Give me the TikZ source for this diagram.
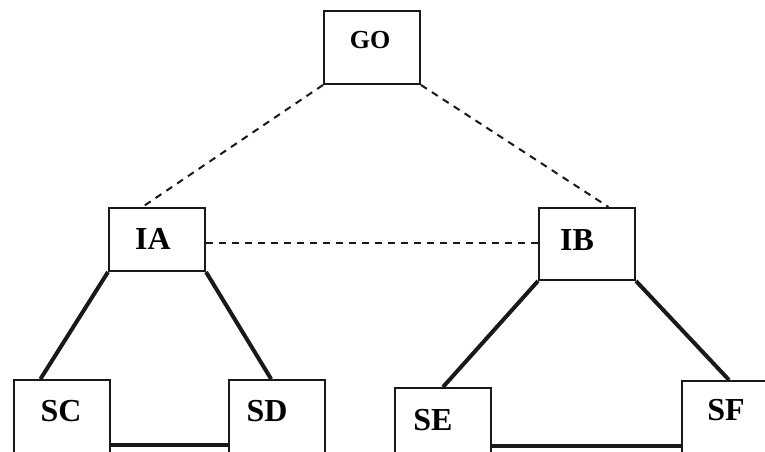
\documentclass[tikz,border=0pt]{standalone}
\usepackage{fontspec}
\setmainfont{Liberation Serif}
\usetikzlibrary{calc}
\begin{document}
\begin{tikzpicture}[x=0.5pt,y=-0.5pt,
  box/.style={draw=black!90, line width=1pt, rectangle, inner sep=0pt,
    minimum width=48pt, anchor=north west},
  lbl/.style={inner sep=0pt, font=\fontsize{16}{18}\selectfont\bfseries},
  toplbl/.style={inner sep=0pt, font=\fontsize{13}{15}\selectfont\bfseries},
  dashlink/.style={draw=black!90, line width=1pt, dash pattern=on 3.5pt off 3pt},
  solidlink/.style={draw=black!90, line width=2pt}]
  \useasboundingbox (0,0) rectangle (765,451);
  \clip (0,0) rectangle (765,451);
  % boxes
  \node[box, minimum height=36.5pt] (go) at (323,10) {};
  \node[box, minimum height=31.5pt] (ia) at (108,207) {};
  \node[box, minimum height=36pt]   (ib) at (538,207) {};
  \node[box, minimum height=48pt]   (sc) at (13,379) {};
  \node[box, minimum height=48pt]   (sd) at (228,379) {};
  \node[box, minimum height=48pt]   (se) at (394,387) {};
  \node[box, minimum height=48pt]   (sf) at (681,380) {};
  % labels
  \node[toplbl] (golbl) at (370,40) {GO};
  \node[lbl] (ialbl) at (153,239) {IA};
  \node[lbl] (iblbl) at (577,240) {IB};
  \node[lbl] (sclbl) at (61,411) {SC};
  \node[lbl] (sdlbl) at (267,411) {SD};
  \node[lbl] (selbl) at (433,420) {SE};
  \node[lbl] (sflbl) at (726,410) {SF};
  % dashed links
  \draw[dashlink] (go.south west) -- ($(ia.north west)!0.35!(ia.north east)$);
  \draw[dashlink] (go.south east) -- ($(ib.north west)!0.72!(ib.north east)$);
  \draw[dashlink] ($(ia.north east)+(0,36)$) -- (ib.west |- {$(ia.north east)+(0,36)$});
  % solid links
  \draw[solidlink] (ia.south west) -- ($(sc.north west)!0.28!(sc.north east)$);
  \draw[solidlink] (ia.south east) -- ($(sd.north west)!0.44!(sd.north east)$);
  \draw[solidlink] (ib.south west) -- ($(se.north west)!0.5!(se.north east)$);
  \draw[solidlink] (ib.south east) -- ($(sf.north west)!0.49!(sf.north east)$);
  \draw[solidlink] ($(sc.north east)+(0,66)$) -- (sd.west |- {$(sc.north east)+(0,66)$});
  \draw[solidlink] ($(se.north east)+(0,59)$) -- (sf.west |- {$(se.north east)+(0,59)$});
\end{tikzpicture}
\end{document}
